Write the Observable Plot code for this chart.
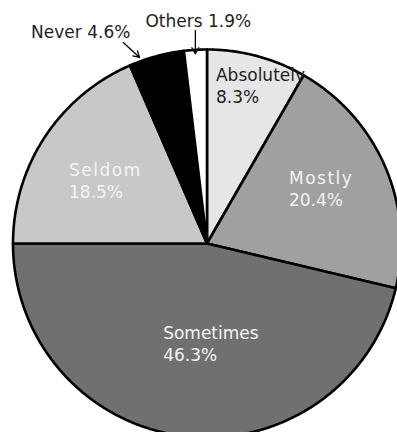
<!DOCTYPE html>
<html>
<head>
<meta charset="utf-8">
<script src="https://cdn.jsdelivr.net/npm/d3@7"></script>
<script src="https://cdn.jsdelivr.net/npm/@observablehq/plot@0.6"></script>
<style>
  html, body { margin: 0; padding: 0; background: #fff; }
  #chart svg { display: block; }
</style>
</head>
<body>
<div id="chart"></div>
<script>
// Survey answers, in pie order (clockwise from 12 o'clock)
const categories = ["Absolutely", "Mostly", "Sometimes", "Seldom", "Never", "Others"];
const shares = [8.3, 20.4, 46.3, 18.5, 4.6, 1.9];

// Slice fills and label inks
const palette = ["#e6e6e6", "#a0a0a0", "#707070", "#c8c8c8", "#000000", "#ffffff"];
const darkInk = "#1e1e1e";
const lightInk = "#f4f4f4";

// Canvas and pie geometry (pixels)
const W = 397, H = 432, cx = 206.5, cy = 243, R = 194;

const rad = (deg) => deg * Math.PI / 180;
// angle measured clockwise from 12 o'clock, radius in units of R
const polar = (r, a) => ({x: r * Math.sin(a), y: r * Math.cos(a)});

const arcs = d3.pie().sort(null).startAngle(0).endAngle(2 * Math.PI)(shares);
const midAngle = (a) => (a.startAngle + a.endAngle) / 2;

// Closed wedge outlines: centre -> arc -> centre
const wedges = arcs.flatMap((a, i) => {
  const n = Math.max(2, Math.ceil((a.endAngle - a.startAngle) / rad(0.5)));
  const pts = [{...polar(0, 0), cat: categories[i]}];
  for (let k = 0; k <= n; k++) {
    pts.push({...polar(1, a.startAngle + (a.endAngle - a.startAngle) * k / n), cat: categories[i]});
  }
  pts.push({...polar(0, 0), cat: categories[i]});
  return pts;
});

// Inside labels: left edge of the text block, placed along the slice's mid angle
const insidePlacement = {
  Absolutely: {r: 0.818, turn: -11.7, ink: darkInk},
  Mostly:     {r: 0.51,  turn: -10.65, ink: lightInk},
  Sometimes:  {r: 0.561, turn: 17.1, ink: lightInk},
  Seldom:     {r: 0.783, turn: -8.6, ink: lightInk}
};
const insideLabels = arcs.flatMap((a, i) => {
  const p = insidePlacement[categories[i]];
  if (!p) return [];
  return [{...polar(p.r, midAngle(a) + rad(p.turn)), ink: p.ink,
           text: `${categories[i]}\n${shares[i]}%`}];
});

// Callout labels for the thin slices, with arrows pointing at the rim
const calloutPlacement = {
  Never:  {tip: [1.02, -4.8], tail: [1.122, -7.5], label: [1.159, -4.8], anchor: "end"},
  Others: {tip: [0.98, -0.1], tail: [1.10, 0.3],  label: [1.185, -12.1], anchor: "start"}
};
const callouts = arcs.flatMap((a, i) => {
  const p = calloutPlacement[categories[i]];
  if (!p) return [];
  const m = midAngle(a);
  const tip = polar(p.tip[0], m + rad(p.tip[1]));
  const tail = polar(p.tail[0], m + rad(p.tail[1]));
  const lab = polar(p.label[0], m + rad(p.label[1]));
  return [{x1: tail.x, y1: tail.y, x2: tip.x, y2: tip.y, lx: lab.x, ly: lab.y,
           anchor: p.anchor, text: `${categories[i]} ${shares[i]}%`}];
});

const chart = Plot.plot({
  width: W,
  height: H,
  margin: 0,
  x: {domain: [-cx / R, (W - cx) / R], axis: null},
  y: {domain: [(cy - H) / R, cy / R], axis: null},
  color: {domain: categories, range: palette},
  style: {fontFamily: "'DejaVu Sans', Verdana, sans-serif", background: "#fff"},
  marks: [
    Plot.line(wedges, {x: "x", y: "y", z: "cat", fill: "cat", stroke: "#000",
                       strokeWidth: 2.6, strokeLinejoin: "round"}),
    Plot.text(insideLabels.filter(d => d.ink === darkInk), {
      x: "x", y: "y", text: "text", textAnchor: "start", lineAnchor: "middle",
      lineHeight: 1.3, fontSize: 17, fill: darkInk
    }),
    Plot.text(insideLabels.filter(d => d.ink === lightInk), {
      x: "x", y: "y", text: "text", textAnchor: "start", lineAnchor: "middle",
      lineHeight: 1.3, fontSize: 17, fill: lightInk
    }),
    Plot.arrow(callouts, {x1: "x1", y1: "y1", x2: "x2", y2: "y2", stroke: "#000",
                          strokeWidth: 1.3, headLength: 8}),
    Plot.text(callouts.filter(d => d.anchor === "end"), {
      x: "lx", y: "ly", text: "text", textAnchor: "end", fontSize: 17, fill: darkInk
    }),
    Plot.text(callouts.filter(d => d.anchor === "start"), {
      x: "lx", y: "ly", text: "text", textAnchor: "start", fontSize: 17, fill: darkInk
    })
  ]
});

// Category names inside the mid-grey slices are set with wider tracking
d3.select(chart).selectAll("tspan")
  .filter(function () { return this.textContent === "Mostly" || this.textContent === "Seldom"; })
  .attr("letter-spacing", "1.5px");

document.getElementById("chart").appendChild(chart);
</script>
</body>
</html>
